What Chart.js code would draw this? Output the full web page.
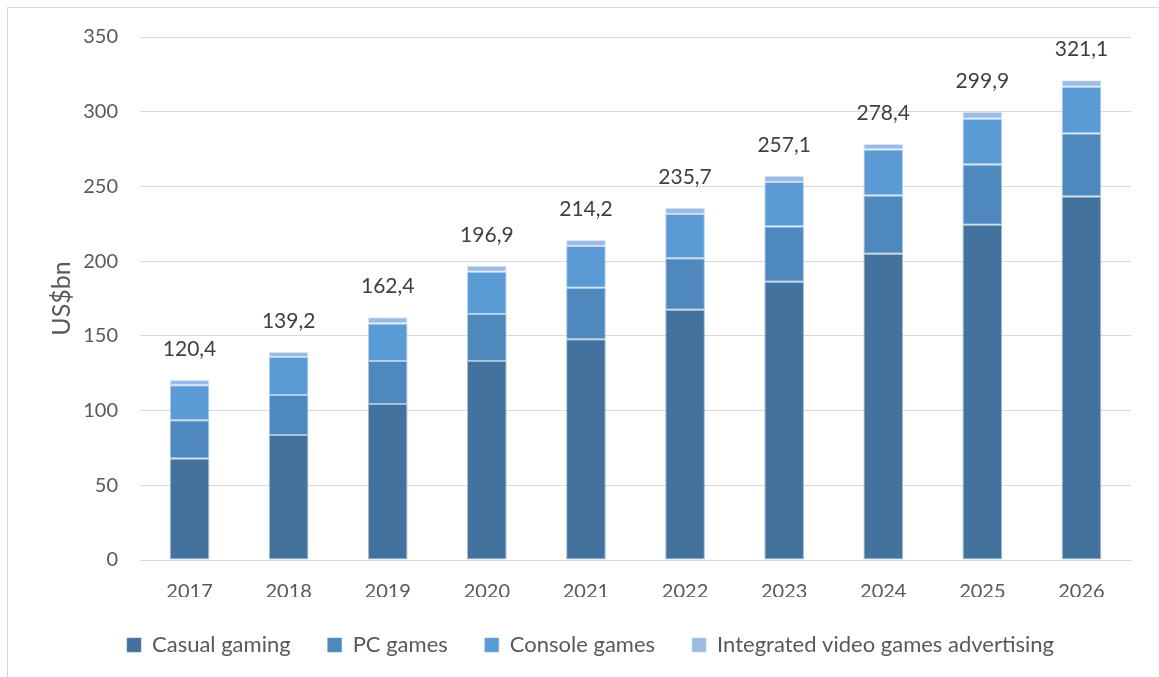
<!DOCTYPE html>
<html>
<head>
<meta charset="utf-8">
<script src="https://cdn.jsdelivr.net/npm/chart.js@4"></script>
<style>
  html, body { margin: 0; padding: 0; background: #fff; }
  #wrap { position: relative; width: 1159px; height: 677px; overflow: hidden; }
  #frame {
    position: absolute; left: 7px; top: 7px; right: -2px; bottom: -2px;
    border-left: 1px solid #d9d9d9; border-top: 1px solid #d9d9d9;
  }
  canvas { position: absolute; left: 0; top: 0; }
</style>
</head>
<body>
<div id="wrap">
  <div id="frame"></div>
  <canvas id="myCanvas"></canvas>
</div>
<script>
const years = ['2017', '2018', '2019', '2020', '2021', '2022', '2023', '2024', '2025', '2026'];

const casualGaming = [68.0, 83.6, 104.4, 133.2, 147.7, 167.4, 186.2, 205.0, 224.4, 243.2];
const pcGames      = [25.6, 26.8, 28.8, 31.5, 34.5, 34.6, 36.9, 38.9, 40.2, 42.2];
const consoleGames = [23.4, 25.5, 25.0, 28.2, 27.9, 29.5, 29.9, 30.8, 30.7, 31.3];
const advertising  = [3.4, 3.3, 4.2, 4.0, 4.1, 4.2, 4.1, 3.7, 4.6, 4.4];

const yTicks = [0, 50, 100, 150, 200, 250, 300, 350];

const FONT = 'Lato, "Open Sans", sans-serif';

function series(label, values, color, edge) {
  return {
    label: label,
    data: values,
    backgroundColor: color,
    borderColor: edge,
    borderWidth: 1,
    borderSkipped: false,
    barPercentage: 0.4,
    categoryPercentage: 1
  };
}

// stack totals written above each column
const totalLabels = {
  id: 'totalLabels',
  afterDatasetsDraw(chart) {
    const ctx = chart.ctx;
    const top = chart.getDatasetMeta(chart.data.datasets.length - 1);
    ctx.save();
    ctx.font = '21px ' + FONT;
    ctx.fillStyle = '#404040';
    ctx.textAlign = 'center';
    ctx.textBaseline = 'alphabetic';
    years.forEach((y, i) => {
      const sum = chart.data.datasets.reduce((s, ds) => s + ds.data[i], 0);
      const bar = top.data[i];
      ctx.fillText(sum.toFixed(1).replace('.', ','), bar.x, bar.y - 24);
    });
    ctx.restore();
  }
};

const data = {
  labels: years,
  datasets: [
    series('Casual gaming', casualGaming, 'rgb(67,114,158)', 'rgba(100,142,182,0.6)'),
    series('PC games', pcGames, 'rgb(78,136,188)', 'rgba(115,162,205,0.6)'),
    series('Console games', consoleGames, 'rgb(90,155,214)', 'rgba(135,180,225,0.6)'),
    series('Integrated video games advertising', advertising, 'rgb(155,187,227)', 'rgba(190,210,235,0.6)')
  ]
};

const config = {
  type: 'bar',
  data: data,
  plugins: [totalLabels],
  options: {
    responsive: true,
    maintainAspectRatio: false,
    animation: false,
    layout: { padding: { left: 50, right: 28, top: 37, bottom: 11 } },
    plugins: {
      tooltip: { enabled: false },
      legend: {
        position: 'bottom',
        labels: {
          boxWidth: 14,
          boxHeight: 14,
          padding: 37,
          color: '#595959',
          font: { family: FONT, size: 22 }
        }
      }
    },
    scales: {
      x: {
        stacked: true,
        afterFit(scale) { scale.height = 37; },
        grid: { display: false, drawTicks: false },
        border: { color: '#d9d9d9', width: 1 },
        ticks: { color: '#595959', padding: 20, font: { family: FONT, size: 20 } }
      },
      y: {
        stacked: true,
        min: 0,
        max: 350,
        afterFit(scale) { scale.width = 90; },
        afterBuildTicks(scale) { scale.ticks = yTicks.map(v => ({ value: v })); },
        grid: { color: '#d9d9d9', lineWidth: 1, drawTicks: false },
        border: { display: false },
        ticks: { color: '#595959', padding: 22, font: { family: FONT, size: 20 } },
        title: {
          display: true,
          text: 'US$bn',
          color: '#595959',
          font: { family: FONT, size: 25 },
          padding: { top: -3, bottom: 0 }
        }
      }
    }
  }
};

const myChart = new Chart(document.getElementById('myCanvas'), config);
</script>
</body>
</html>
